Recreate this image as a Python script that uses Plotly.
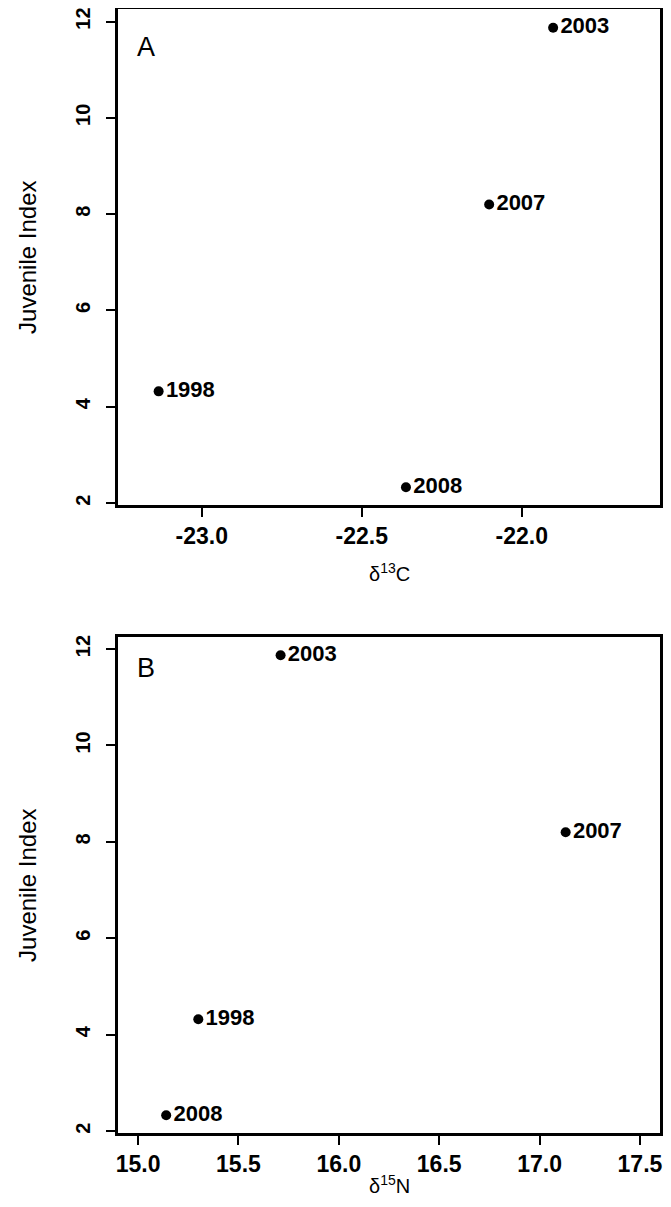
import plotly.graph_objects as go

years = ["1998", "2003", "2007", "2008"]
juvenile_index = [4.32, 11.87, 8.2, 2.33]
d13C = [-23.135, -21.902, -22.102, -22.362]
d15N = [15.30, 15.71, 17.13, 15.14]

xticks_A = [-23.0, -22.5, -22.0]
xticks_B = [15.0, 15.5, 16.0, 16.5, 17.0, 17.5]
yticks = [2, 4, 6, 8, 10, 12]

# page has an 8px default body margin, so the figure is drawn smaller to avoid scrolling
W, H = 663, 1191
ML, MR, MT, MB = 110, 11, 1, 66

FONT = "Liberation Sans, Arial, sans-serif"
label_font = dict(family=FONT, size=22, color="black", weight="bold")
xtick_font = dict(family=FONT, size=23, color="black", weight="bold")
ytick_font = dict(family=FONT, size=20, color="black", weight="bold")
title_font = dict(family=FONT, size=20, color="black")
ytitle_font = dict(family=FONT, size=24, color="black")
letter_font = dict(family=FONT, size=27, color="black")

fig = go.Figure()
for xs, xa, ya in [(d13C, "x", "y"), (d15N, "x2", "y2")]:
    fig.add_trace(go.Scatter(
        x=xs, y=juvenile_index, text=years, mode="markers+text",
        textposition="middle right", textfont=label_font,
        marker=dict(color="black", size=10), xaxis=xa, yaxis=ya,
        showlegend=False, cliponaxis=False,
    ))

common_axis = dict(
    showline=True, linecolor="black", linewidth=2.5, mirror=True,
    ticks="outside", ticklen=9, tickwidth=2, tickcolor="black",
    showgrid=False, zeroline=False, automargin=False,
    ticklabeloverflow="allow",
)

fig.update_layout(
    width=W, height=H,
    margin=dict(l=ML, r=MR, t=MT, b=MB),
    plot_bgcolor="white", paper_bgcolor="white",
    xaxis=dict(common_axis, domain=[0, 1], anchor="y", range=[-23.262, -21.568],
               tickvals=xticks_A, ticktext=[f"{v:.1f}" for v in xticks_A], tickfont=xtick_font),
    yaxis=dict(common_axis, domain=[(1125 - 497) / 1124, 1], anchor="x", range=[1.96, 12.26],
               tickvals=yticks, tickangle=-90, ticklabelstandoff=8, tickfont=ytick_font),
    xaxis2=dict(common_axis, domain=[0, 1], anchor="y2", range=[14.9, 17.6],
                tickvals=xticks_B, ticktext=[f"{v:.1f}" for v in xticks_B], tickfont=xtick_font),
    yaxis2=dict(common_axis, domain=[0, 496 / 1124], anchor="x2", range=[1.96, 12.25],
                tickvals=yticks, tickangle=-90, ticklabelstandoff=8, tickfont=ytick_font),
)

fig.add_annotation(text="A", xref="x domain", yref="y domain", x=0.052, y=0.9235,
                   showarrow=False, font=letter_font, xanchor="center", yanchor="middle")
fig.add_annotation(text="B", xref="x2 domain", yref="y2 domain", x=0.052, y=0.937,
                   showarrow=False, font=letter_font, xanchor="center", yanchor="middle")

fig.add_annotation(text="δ<sup>13</sup>C", xref="x domain", yref="y domain", x=0.5, y=-0.137,
                   showarrow=False, font=title_font, xanchor="center", yanchor="middle")
fig.add_annotation(text="δ<sup>15</sup>N", xref="x2 domain", yref="y2 domain", x=0.5, y=-0.104,
                   showarrow=False, font=title_font, xanchor="center", yanchor="middle")
fig.add_annotation(text="Juvenile Index", xref="x domain", yref="y domain", x=-0.168, y=0.5,
                   textangle=-90, showarrow=False, font=ytitle_font,
                   xanchor="center", yanchor="middle")
fig.add_annotation(text="Juvenile Index", xref="x2 domain", yref="y2 domain", x=-0.168, y=0.5,
                   textangle=-90, showarrow=False, font=ytitle_font,
                   xanchor="center", yanchor="middle")

fig.write_html("out.html")
